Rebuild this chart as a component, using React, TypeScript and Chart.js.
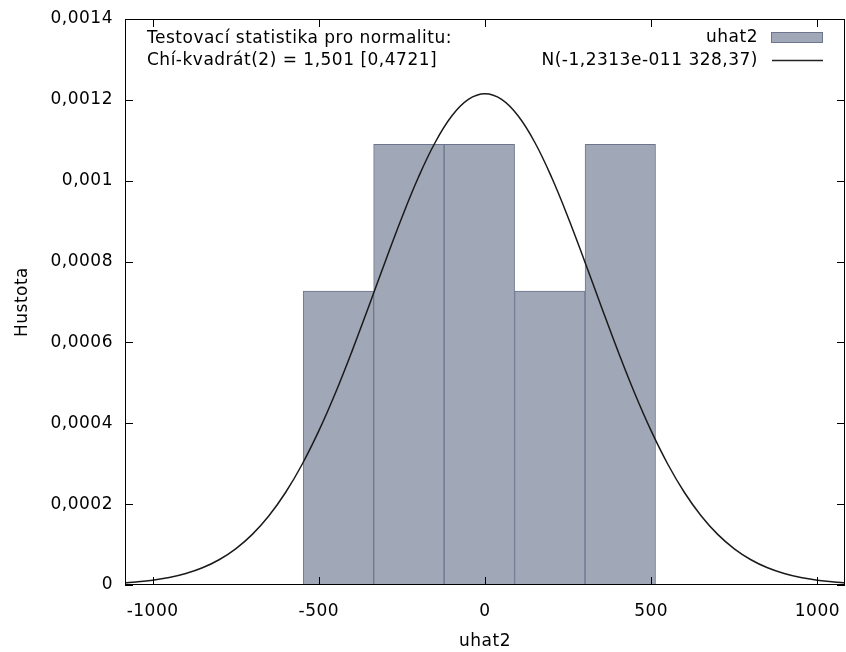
import React, { useEffect, useRef } from "react";
import { Chart, registerables } from "chart.js";

Chart.register(...registerables);

// Histogram bins (centres) and densities
const binCenters = [-441, -229, -17, 195, 407];
const binDensity = [0.000727, 0.00109, 0.00109, 0.000727, 0.00109];

const curveX = [
  -1083, -1050, -1000, -950, -900, -850, -800, -750, -700, -650, -600, -550, -500, -450, -400, -350, -300, -250,
  -200, -150, -100, -50, 0, 50, 100, 150, 200, 250, 300, 350, 400, 450, 500, 550, 600, 650, 700, 750, 800, 850,
  900, 950, 1000, 1050, 1083,
];
const curveY = [
  0.0000053, 0.0000073, 0.0000118, 0.0000185, 0.0000284, 0.0000426, 0.0000625, 0.0000895, 0.0001252, 0.0001713,
  0.0002288, 0.0002987, 0.0003811, 0.000475, 0.0005785, 0.0006884, 0.0008004, 0.0009092, 0.0010092, 0.0010945,
  0.0011599, 0.0012009, 0.0012149, 0.0012009, 0.0011599, 0.0010945, 0.0010092, 0.0009092, 0.0008004, 0.0006884,
  0.0005785, 0.000475, 0.0003811, 0.0002987, 0.0002288, 0.0001713, 0.0001252, 0.0000895, 0.0000625, 0.0000426,
  0.0000284, 0.0000185, 0.0000118, 0.0000073, 0.0000053,
];

const xTicks = [-1000, -500, 0, 500, 1000];
const xTickLabels = ["-1000", "-500", "0", "500", "1000"];
const yTicks = [0, 0.0002, 0.0004, 0.0006, 0.0008, 0.001, 0.0012, 0.0014];
const yTickLabels = ["0", "0,0002", "0,0004", "0,0006", "0,0008", "0,001", "0,0012", "0,0014"];

const histLabel = "uhat2";
const curveLabel = "N(-1,2313e-011 328,37)";
const testLines = ["Testovací statistika pro normalitu:", "Chí-kvadrát(2) = 1,501 [0,4721]"];
const xTitle = "uhat2";
const yTitle = "Hustota";

const FONT = "'DejaVu Sans', Verdana, sans-serif";
const FS = 17;
const LS = "0.5px";
const BAR_FILL = "rgb(160,167,182)";
const BAR_EDGE = "rgb(108,118,142)";

const spacingPlugin = {
  id: "spacing",
  beforeDraw(chart: any) {
    (chart.ctx as any).letterSpacing = LS;
  },
};

const framePlugin = {
  id: "frame",
  afterDraw(chart: any) {
    const { ctx, chartArea: a, scales } = chart;
    ctx.save();
    (ctx as any).letterSpacing = LS;
    ctx.strokeStyle = "#000";
    ctx.lineWidth = 1;
    ctx.strokeRect(a.left + 0.5, a.top + 0.5, a.right - a.left - 1, a.bottom - a.top - 1);
    const tl = 8;
    ctx.beginPath();
    xTicks.forEach((v) => {
      const px = Math.round(scales.x.getPixelForValue(v)) + 0.5;
      ctx.moveTo(px, a.bottom);
      ctx.lineTo(px, a.bottom - tl);
      ctx.moveTo(px, a.top);
      ctx.lineTo(px, a.top + tl);
    });
    yTicks.forEach((v) => {
      const py = Math.round(scales.y.getPixelForValue(v)) + 0.5;
      ctx.moveTo(a.left, py);
      ctx.lineTo(a.left + tl, py);
      ctx.moveTo(a.right, py);
      ctx.lineTo(a.right - tl, py);
    });
    ctx.stroke();

    // annotation text
    ctx.fillStyle = "#000";
    ctx.font = `${FS}px ${FONT}`;
    ctx.textBaseline = "middle";
    ctx.textAlign = "left";
    ctx.fillText(testLines[0], a.left + 22, a.top + 20);
    ctx.fillText(testLines[1], a.left + 22, a.top + 42);

    // legend
    ctx.textAlign = "right";
    const tx = a.right - 87;
    ctx.fillText(histLabel, tx, a.top + 19);
    ctx.fillText(curveLabel, tx, a.top + 42);
    ctx.fillStyle = BAR_FILL;
    ctx.fillRect(tx + 13, a.top + 13, 52, 11);
    ctx.strokeStyle = BAR_EDGE;
    ctx.strokeRect(tx + 13.5, a.top + 13.5, 51, 10);
    ctx.strokeStyle = "#222";
    ctx.lineWidth = 1.3;
    ctx.beginPath();
    ctx.moveTo(tx + 14, a.top + 41.5);
    ctx.lineTo(tx + 65, a.top + 41.5);
    ctx.stroke();
    ctx.restore();
  },
};

export default function App() {
  const ref = useRef<HTMLCanvasElement>(null);
  useEffect(() => {
    document.body.style.margin = "0";
    const chart = new Chart(ref.current as HTMLCanvasElement, {
      type: "bar",
      data: {
        datasets: [
          {
            type: "line",
            label: curveLabel,
            data: curveX.map((x, i) => ({ x, y: curveY[i] })),
            borderColor: "#1a1a1a",
            borderWidth: 1.5,
            pointRadius: 0,
            tension: 0.4,
            fill: false,
          } as any,
          {
            type: "bar",
            label: histLabel,
            data: binCenters.map((x, i) => ({ x, y: binDensity[i] })),
            backgroundColor: BAR_FILL,
            borderColor: BAR_EDGE,
            borderWidth: 1,
            borderSkipped: false,
            barPercentage: 1,
            categoryPercentage: 1,
            grouped: false,
          } as any,
        ],
      },
      options: {
        responsive: false,
        animation: false,
        layout: { padding: { top: 19, right: 1, left: 0, bottom: 0 } },
        plugins: { legend: { display: false }, tooltip: { enabled: false } },
        scales: {
          x: {
            type: "linear",
            min: -1083,
            max: 1083,
            offset: false,
            grid: { display: false },
            border: { display: false },
            afterBuildTicks: (s: any) => {
              s.ticks = xTicks.map((v) => ({ value: v }));
            },
            afterFit: (s: any) => {
              s.height = 67;
              s.paddingLeft = 0;
              s.paddingRight = 0;
            },
            ticks: {
              padding: 8,
              color: "#000",
              font: { family: FONT, size: FS },
              maxRotation: 0,
              autoSkip: false,
              callback: (v: any) => xTickLabels[xTicks.indexOf(Number(v))] ?? "",
            },
            title: {
              display: true,
              text: xTitle,
              color: "#000",
              font: { family: FONT, size: FS },
              padding: { top: 8, bottom: 0 },
            },
          },
          y: {
            type: "linear",
            min: 0,
            max: 0.0014,
            grid: { display: false },
            border: { display: false },
            afterBuildTicks: (s: any) => {
              s.ticks = yTicks.map((v) => ({ value: v }));
            },
            afterFit: (s: any) => {
              s.width = 125;
              s.paddingTop = 0;
              s.paddingBottom = 0;
            },
            ticks: {
              padding: 4,
              color: "#000",
              font: { family: FONT, size: FS },
              autoSkip: false,
              callback: (v: any, i: number) => yTickLabels[i] ?? "",
            },
            title: {
              display: true,
              text: yTitle,
              color: "#000",
              font: { family: FONT, size: FS },
              padding: { top: 12, bottom: 0 },
            },
          },
        },
      } as any,
      plugins: [spacingPlugin, framePlugin],
    });
    return () => chart.destroy();
  }, []);
  return (
    <div style={{ width: 846, height: 652 }}>
      <canvas ref={ref} width={846} height={652} />
    </div>
  );
}
